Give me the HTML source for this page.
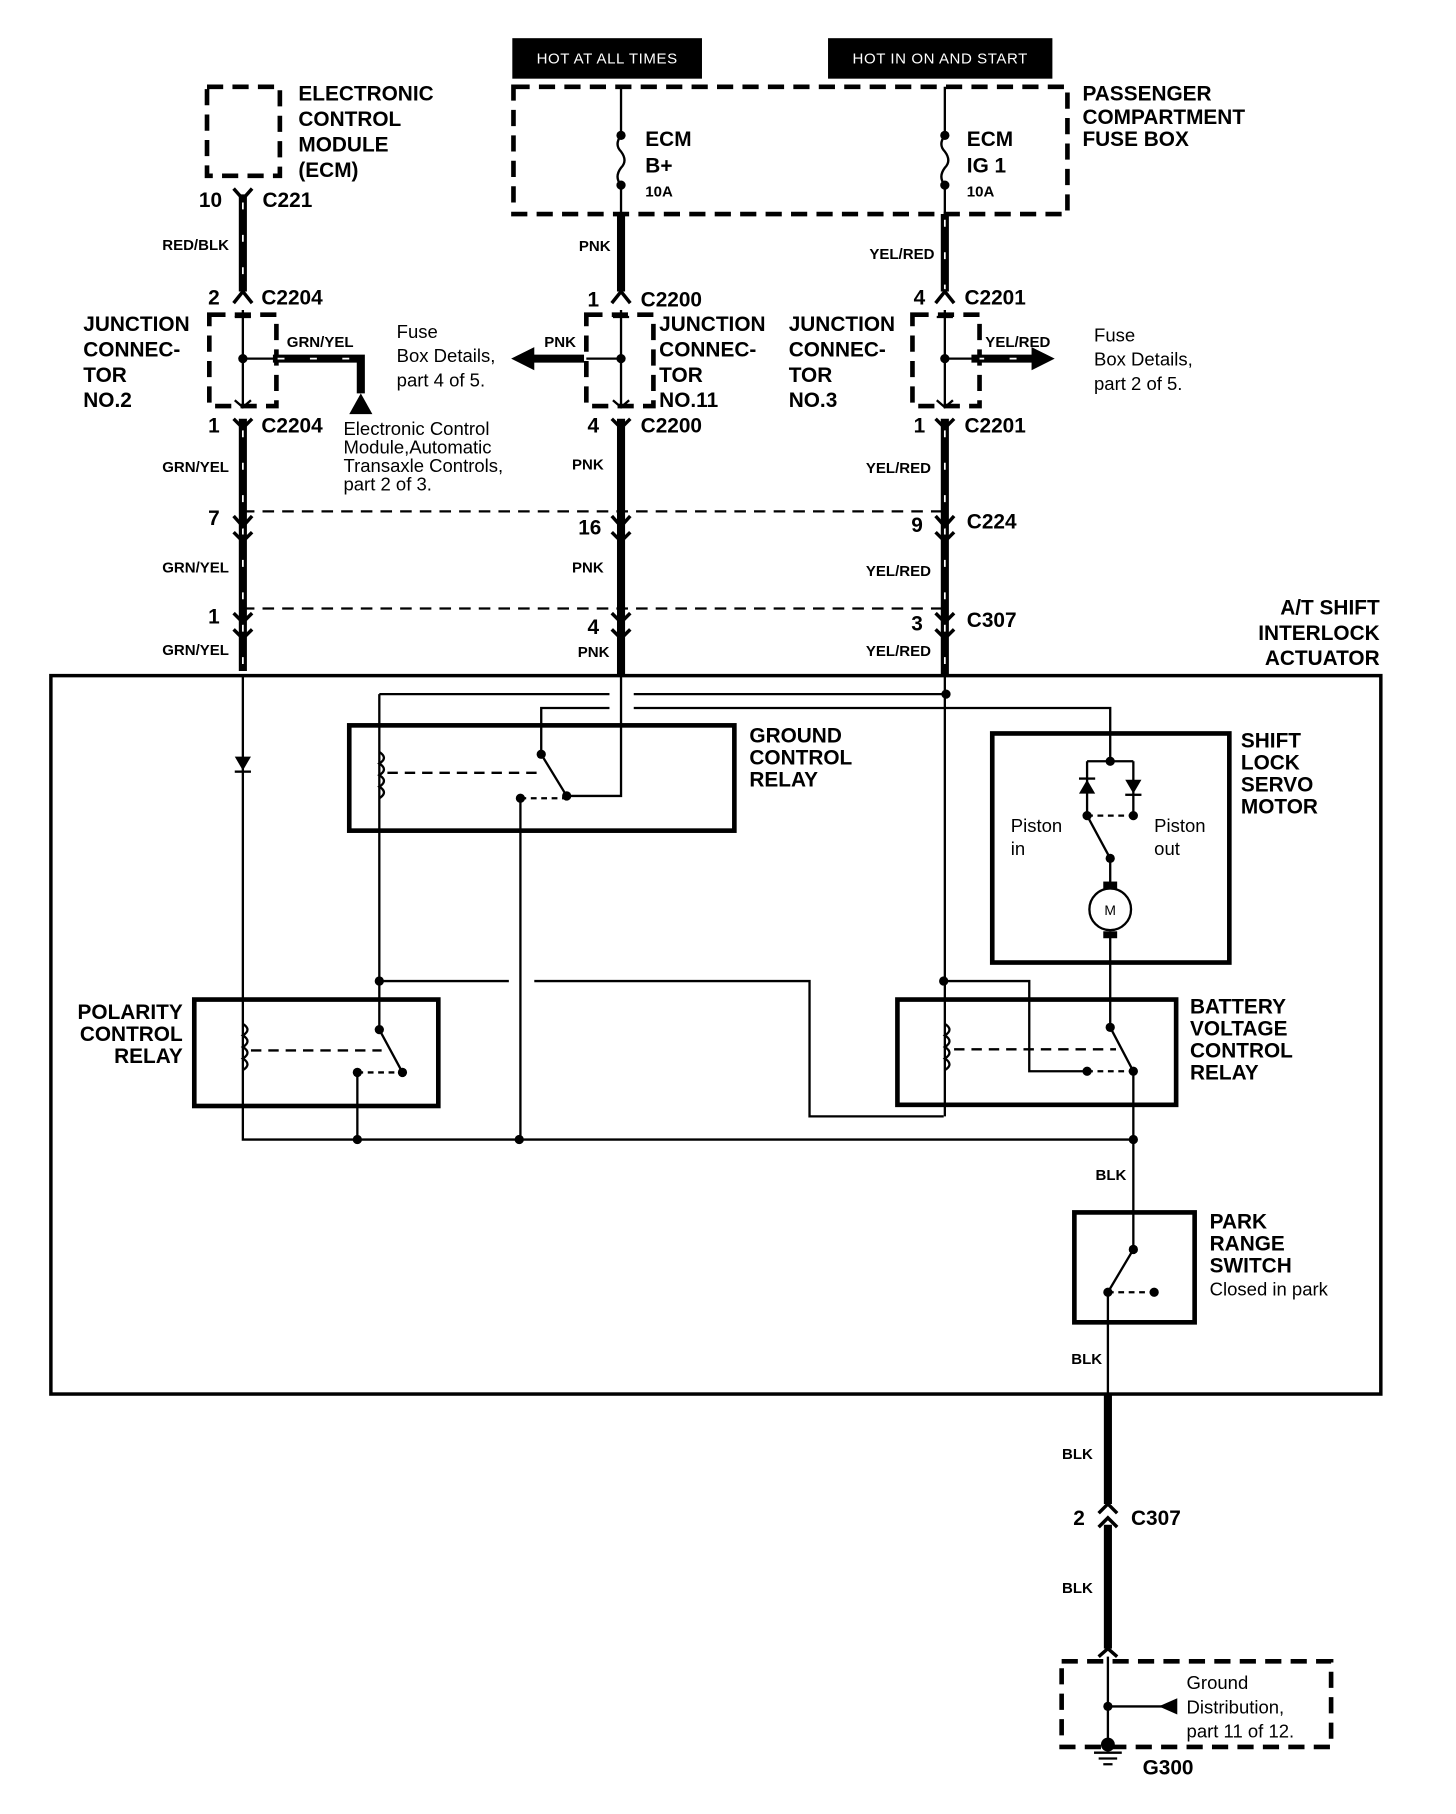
<!DOCTYPE html>
<html><head><meta charset="utf-8"><style>
html,body{margin:0;padding:0;background:#fff}
svg{display:block}
text{font-family:"Liberation Sans",Arial,sans-serif;fill:#000}
.b{font-weight:bold;font-size:18px}
.s{font-weight:bold;font-size:13px}
.n{font-size:16px}
</style></head><body>
<svg width="1456" height="1814" viewBox="0 0 1259 1568" preserveAspectRatio="none" xmlns="http://www.w3.org/2000/svg">
<rect width="1259" height="1568" fill="#fff"/>
<rect x="443" y="33" width="164" height="35" fill="#000"/>
<text x="525" y="55" font-size="13" text-anchor="middle" letter-spacing="0.5" style="fill:#fff">HOT AT ALL TIMES</text>
<rect x="716" y="33" width="194" height="35" fill="#000"/>
<text x="813" y="55" font-size="13" text-anchor="middle" letter-spacing="0.5" style="fill:#fff">HOT IN ON AND START</text>
<g fill="none" stroke="#000" stroke-width="4" stroke-dasharray="14 8">
<rect x="444" y="75" width="479" height="110"/>
<rect x="179" y="75" width="63" height="77"/>
<rect x="181" y="272" width="58" height="79"/>
<rect x="507" y="272" width="58" height="79"/>
<rect x="789" y="272" width="58" height="79"/>
<rect x="918" y="1436" width="233" height="74"/>
</g>
<g fill="none" stroke="#000" stroke-width="2">
<path d="M537 75V117 M537 117 q-6 8 0 14 q6 8 0 14 q-6 8 0 15 V185"/>
<path d="M817 75V117 M817 117 q-6 8 0 14 q6 8 0 14 q-6 8 0 15 V185"/>
</g>
<g fill="#000"><circle cx="537" cy="117" r="4"/><circle cx="537" cy="160" r="4"/><circle cx="817" cy="117" r="4"/><circle cx="817" cy="160" r="4"/></g>
<g stroke="#000" stroke-width="7" fill="none">
<path d="M210 168V252 M210 362V580"/>
<path d="M537 185V252 M537 362V583"/>
<path d="M817 185V252 M817 362V583"/>
<path d="M958 1205V1300 M958 1318V1425"/>
<path d="M236 310H312V340"/>
<path d="M840 310H900"/>
<path d="M505 310H460"/>
</g>
<g stroke="#fff" stroke-width="1.5" fill="none" stroke-dasharray="6 22">
<path d="M210 175V250 M210 372V578 M817 190V250 M817 372V580 M240 310H310 M845 310H895"/>
</g>
<polygon points="442,310 462,300 462,320" fill="#000"/>
<polygon points="912,310 892,300 892,320" fill="#000"/>
<polygon points="312,340 302,358 322,358" fill="#000"/>
<g stroke="#000" stroke-width="2" fill="none">
<path d="M210 268V350 M210 310H240 M203 274H217 M203 346 L210 352 L217 346"/>
<path d="M537 268V350 M537 310H507 M530 274H544 M530 346 L537 352 L544 346"/>
<path d="M817 268V350 M817 310H847 M810 274H824 M810 346 L817 352 L824 346"/>
<path d="M210 442H818 M210 526H818" stroke-dasharray="10 7"/>
</g>
<g fill="#000"><circle cx="210" cy="310" r="4"/><circle cx="537" cy="310" r="4"/><circle cx="817" cy="310" r="4"/><circle cx="958" cy="1475" r="4"/></g>
<g stroke="#000" stroke-width="3" fill="none">
<path d="M202 163 L210 172 L218 163"/>
<path d="M202 262 L210 252 L218 262 M529 262 L537 252 L545 262 M809 262 L817 252 L825 262"/>
<path d="M202 362 L210 370 L218 362 M529 362 L537 370 L545 362 M809 362 L817 370 L825 362"/>
<path d="M202 446 L210 455 L218 446 M529 446 L537 455 L545 446 M809 446 L817 455 L825 446"/>
<path d="M202 460 L210 468 L218 460 M529 460 L537 468 L545 460 M809 460 L817 468 L825 460"/>
<path d="M202 530 L210 538 L218 530 M529 530 L537 538 L545 530 M809 530 L817 538 L825 530"/>
<path d="M202 544 L210 552 L218 544 M529 544 L537 552 L545 544 M809 544 L817 552 L825 544"/>
<path d="M950 1308 L958 1300 L966 1308 M950 1320 L958 1312 L966 1320"/>
<path d="M950 1432 L958 1425 L966 1432"/>
</g>
<g stroke="#000" stroke-width="2" fill="none"><path d="M958 1432V1505 M958 1475H1010 M946 1515H970 M950 1520H966 M954 1525H962"/></g>
<polygon points="1002,1475 1018,1468 1018,1482" fill="#000"/>
<circle cx="958" cy="1508" r="6" fill="#000"/>
<rect x="44" y="584" width="1150" height="621" fill="none" stroke="#000" stroke-width="3"/>
<g fill="none" stroke="#000" stroke-width="4">
<rect x="302" y="627" width="333" height="91"/>
<rect x="168" y="864" width="211" height="92"/>
<rect x="776" y="864" width="241" height="91"/>
<rect x="858" y="634" width="205" height="198"/>
<rect x="929" y="1048" width="104" height="95"/>
</g>
<g fill="none" stroke="#000" stroke-width="2">
<path d="M210 583V985H980"/>
<path d="M328 600H527 M548 600H818"/>
<path d="M468 652V612H527 M548 612H960V658"/>
<path d="M537 583V688H490"/>
<path d="M328 600V890"/>
<path d="M328 848H440 M462 848H700V965H816"/>
<path d="M450 690V985"/>
<path d="M309 927V985"/>
<path d="M817 583V965"/>
<path d="M817 848H890V926H940"/>
<path d="M940 658H980 M940 658V705 M980 658V705"/>
<path d="M940 705L960 742V768 M960 805V888"/>
<path d="M960 888L980 926V1080L958 1117V1205"/>
<path d="M468 652L490 688 M328 890L348 927"/>
<path d="M335 668H470 M217 908H330 M825 907H965" stroke-dasharray="9 6"/>
<path d="M450 690H490 M309 927H348 M940 926H980 M940 705H980 M958 1117H998" stroke-dasharray="5 4"/>
<path d="M328 650q8 5 0 10q8 5 0 10q8 5 0 10q8 5 0 10 M210 885q8 5 0 10q8 5 0 10q8 5 0 10q8 5 0 10 M817 885q8 5 0 10q8 5 0 10q8 5 0 10q8 5 0 10"/>
</g>
<circle cx="960" cy="786" r="18" fill="#fff" stroke="#000" stroke-width="2"/>
<text x="960" y="791" font-size="12" text-anchor="middle">M</text>
<rect x="954" y="762" width="12" height="6" fill="#000"/><rect x="954" y="805" width="12" height="6" fill="#000"/>
<g fill="#000">
<polygon points="203,654 217,654 210,666"/><rect x="203" y="666" width="14" height="2"/>
<polygon points="933,686 947,686 940,674"/><rect x="933" y="672" width="14" height="2"/>
<polygon points="973,674 987,674 980,686"/><rect x="973" y="686" width="14" height="2"/>
<circle cx="818" cy="600" r="4"/><circle cx="960" cy="658" r="4"/>
<circle cx="468" cy="652" r="4"/><circle cx="490" cy="688" r="4"/><circle cx="450" cy="690" r="4"/>
<circle cx="328" cy="848" r="4"/><circle cx="328" cy="890" r="4"/><circle cx="348" cy="927" r="4"/><circle cx="309" cy="927" r="4"/>
<circle cx="816" cy="848" r="4"/><circle cx="960" cy="888" r="4"/><circle cx="980" cy="926" r="4"/><circle cx="940" cy="926" r="4"/>
<circle cx="940" cy="705" r="4"/><circle cx="980" cy="705" r="4"/><circle cx="960" cy="742" r="4"/>
<circle cx="309" cy="985" r="4"/><circle cx="449" cy="985" r="4"/><circle cx="980" cy="985" r="4"/>
<circle cx="980" cy="1080" r="4"/><circle cx="958" cy="1117" r="4"/><circle cx="998" cy="1117" r="4"/>
</g>
<g class="b">
<text x="258" y="87">ELECTRONIC</text><text x="258" y="109">CONTROL</text><text x="258" y="131">MODULE</text><text x="258" y="153">(ECM)</text>
<text x="558" y="126">ECM</text><text x="558" y="149">B+</text>
<text x="836" y="126">ECM</text><text x="836" y="149">IG 1</text>
<text x="936" y="87">PASSENGER</text><text x="936" y="107">COMPARTMENT</text><text x="936" y="126">FUSE BOX</text>
<text x="72" y="286">JUNCTION</text><text x="72" y="308">CONNEC-</text><text x="72" y="330">TOR</text><text x="72" y="352">NO.2</text>
<text x="570" y="286">JUNCTION</text><text x="570" y="308">CONNEC-</text><text x="570" y="330">TOR</text><text x="570" y="352">NO.11</text>
<text x="682" y="286">JUNCTION</text><text x="682" y="308">CONNEC-</text><text x="682" y="330">TOR</text><text x="682" y="352">NO.3</text>
<text x="1193" y="531" text-anchor="end">A/T SHIFT</text><text x="1193" y="553" text-anchor="end">INTERLOCK</text><text x="1193" y="575" text-anchor="end">ACTUATOR</text>
<text x="648" y="642">GROUND</text><text x="648" y="661">CONTROL</text><text x="648" y="680">RELAY</text>
<text x="1073" y="646">SHIFT</text><text x="1073" y="665">LOCK</text><text x="1073" y="684">SERVO</text><text x="1073" y="703">MOTOR</text>
<text x="158" y="881" text-anchor="end">POLARITY</text><text x="158" y="900" text-anchor="end">CONTROL</text><text x="158" y="919" text-anchor="end">RELAY</text>
<text x="1029" y="876">BATTERY</text><text x="1029" y="895">VOLTAGE</text><text x="1029" y="914">CONTROL</text><text x="1029" y="933">RELAY</text>
<text x="1046" y="1062">PARK</text><text x="1046" y="1081">RANGE</text><text x="1046" y="1100">SWITCH</text>
<text x="172" y="179">10</text><text x="227" y="179">C221</text>
<text x="180" y="263">2</text><text x="226" y="263">C2204</text>
<text x="180" y="374">1</text><text x="226" y="374">C2204</text>
<text x="508" y="265">1</text><text x="554" y="265">C2200</text>
<text x="508" y="374">4</text><text x="554" y="374">C2200</text>
<text x="790" y="263">4</text><text x="834" y="263">C2201</text>
<text x="790" y="374">1</text><text x="834" y="374">C2201</text>
<text x="180" y="454">7</text><text x="500" y="462">16</text><text x="788" y="460">9</text><text x="836" y="457">C224</text>
<text x="180" y="539">1</text><text x="508" y="548">4</text><text x="788" y="545">3</text><text x="836" y="542">C307</text>
<text x="928" y="1318">2</text><text x="978" y="1318">C307</text>
<text x="988" y="1534">G300</text>
</g>
<g class="s">
<text x="558" y="170">10A</text><text x="836" y="170">10A</text>
<text x="198" y="216" text-anchor="end">RED/BLK</text>
<text x="528" y="217" text-anchor="end">PNK</text>
<text x="808" y="224" text-anchor="end">YEL/RED</text>
<text x="248" y="300">GRN/YEL</text><text x="498" y="300" text-anchor="end">PNK</text><text x="852" y="300">YEL/RED</text>
<text x="198" y="408" text-anchor="end">GRN/YEL</text><text x="522" y="406" text-anchor="end">PNK</text><text x="805" y="409" text-anchor="end">YEL/RED</text>
<text x="198" y="495" text-anchor="end">GRN/YEL</text><text x="522" y="495" text-anchor="end">PNK</text><text x="805" y="498" text-anchor="end">YEL/RED</text>
<text x="198" y="566" text-anchor="end">GRN/YEL</text><text x="527" y="568" text-anchor="end">PNK</text><text x="805" y="567" text-anchor="end">YEL/RED</text>
<text x="974" y="1020" text-anchor="end">BLK</text><text x="953" y="1179" text-anchor="end">BLK</text>
<text x="945" y="1261" text-anchor="end">BLK</text><text x="945" y="1377" text-anchor="end">BLK</text>
</g>
<g class="n">
<text x="343" y="292">Fuse</text><text x="343" y="313">Box Details,</text><text x="343" y="334">part 4 of 5.</text>
<text x="946" y="295">Fuse</text><text x="946" y="316">Box Details,</text><text x="946" y="337">part 2 of 5.</text>
<text x="297" y="376">Electronic Control</text><text x="297" y="392">Module,Automatic</text><text x="297" y="408">Transaxle Controls,</text><text x="297" y="424">part 2 of 3.</text>
<text x="874" y="719">Piston</text><text x="874" y="739">in</text><text x="998" y="719">Piston</text><text x="998" y="739">out</text>
<text x="1046" y="1120">Closed in park</text>
<text x="1026" y="1460">Ground</text><text x="1026" y="1481">Distribution,</text><text x="1026" y="1502">part 11 of 12.</text>
</g>
</svg>
</body></html>
